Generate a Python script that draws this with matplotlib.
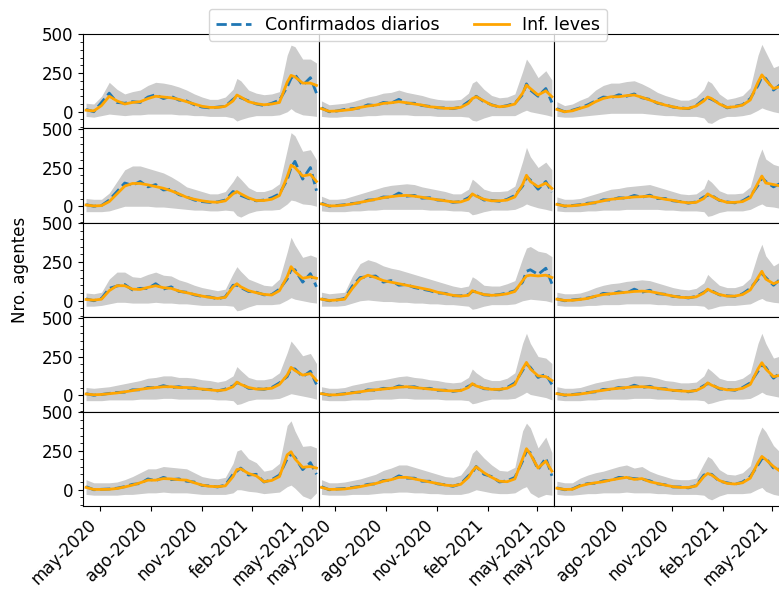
import matplotlib
matplotlib.use("Agg")
import matplotlib.pyplot as plt
import matplotlib.dates as mdates
from matplotlib.ticker import MultipleLocator, FuncFormatter
import numpy as np
import pandas as pd

# Sample dates (biweekly, denser around the January and April waves)
fechas = ["2020-04-06", "2020-04-20", "2020-05-04", "2020-05-18", "2020-06-01",
          "2020-06-15", "2020-06-29", "2020-07-13", "2020-07-27", "2020-08-10",
          "2020-08-24", "2020-09-07", "2020-09-21", "2020-10-05", "2020-10-19",
          "2020-11-02", "2020-11-16", "2020-11-30", "2020-12-14", "2020-12-28",
          "2021-01-04", "2021-01-11", "2021-01-25", "2021-02-08", "2021-02-22",
          "2021-03-08", "2021-03-22", "2021-04-05", "2021-04-12", "2021-04-19",
          "2021-05-03", "2021-05-17", "2021-05-28"]

# Panel 1
leves_1 = [10, 5, 40, 100, 70, 50, 60, 65, 85, 100, 95, 90, 80, 65, 50, 35, 28, 28, 35, 70, 108, 95, 65, 52, 45, 50, 60, 190, 235, 225, 185, 185, 170]
conf_1 = [15, 0, 60, 120, 60, 55, 65, 60, 95, 110, 85, 100, 75, 70, 45, 30, 25, 30, 35, 80, 100, 90, 70, 50, 40, 55, 75, 160, 215, 240, 170, 220, 120]
sup_1 = [55, 50, 100, 190, 145, 115, 130, 140, 170, 190, 185, 175, 160, 140, 115, 95, 80, 80, 95, 145, 215, 200, 140, 120, 110, 115, 130, 365, 430, 420, 340, 340, 315]
inf_1 = [-30, -35, -25, -15, -20, -25, -20, -20, -15, -15, -15, -15, -20, -20, -25, -25, -30, -30, -30, -40, -60, -50, -35, -25, -25, -25, -20, 0, 20, 0, -20, -25, -30]

# Panel 2
leves_2 = [20, 3, 5, 10, 15, 28, 37, 43, 54, 58, 65, 58, 50, 43, 32, 28, 22, 22, 28, 54, 85, 97, 70, 43, 32, 37, 50, 120, 172, 150, 108, 135, 97]
conf_2 = [25, 0, 5, 15, 20, 25, 45, 40, 60, 55, 80, 55, 55, 40, 35, 25, 25, 20, 30, 65, 80, 100, 65, 45, 30, 40, 55, 110, 180, 140, 100, 150, 60]
sup_2 = [70, 45, 50, 55, 65, 80, 95, 105, 120, 125, 140, 125, 115, 105, 90, 80, 75, 75, 80, 120, 185, 200, 145, 105, 90, 95, 115, 260, 340, 305, 220, 265, 205]
inf_2 = [-30, -35, -35, -30, -30, -30, -25, -25, -20, -20, -20, -20, -25, -25, -25, -30, -30, -30, -30, -35, -55, -60, -40, -25, -25, -25, -25, 0, 10, 0, -10, -20, -30]

# Panel 3
leves_3 = [15, 0, 6, 22, 37, 65, 86, 97, 97, 104, 108, 93, 76, 58, 43, 32, 22, 22, 37, 70, 95, 85, 50, 28, 32, 43, 76, 190, 238, 205, 150, 165, 150]
conf_3 = [20, 0, 10, 25, 45, 70, 95, 90, 110, 100, 115, 90, 80, 55, 45, 30, 25, 20, 40, 80, 90, 80, 55, 25, 35, 45, 85, 170, 225, 215, 140, 180, 130]
sup_3 = [65, 40, 50, 75, 95, 140, 170, 185, 185, 195, 200, 180, 155, 125, 105, 90, 75, 75, 95, 145, 200, 185, 115, 80, 90, 105, 155, 365, 435, 385, 285, 305, 285]
inf_3 = [-30, -35, -35, -30, -25, -20, -15, -10, -10, -10, -10, -10, -15, -20, -25, -25, -30, -30, -30, -40, -70, -75, -45, -30, -30, -25, -15, 10, 25, 15, 0, -10, -20]

# Panel 4
leves_4 = [8, 2, 4, 30, 80, 130, 147, 147, 138, 127, 116, 100, 80, 58, 45, 35, 28, 26, 35, 80, 95, 80, 54, 37, 37, 45, 69, 190, 265, 250, 195, 205, 160]
conf_4 = [10, 0, 5, 40, 95, 150, 135, 160, 125, 140, 105, 110, 75, 60, 40, 30, 25, 28, 40, 95, 85, 70, 50, 35, 40, 55, 80, 170, 250, 290, 175, 250, 100]
sup_4 = [50, 45, 45, 85, 160, 235, 260, 260, 245, 230, 215, 190, 160, 125, 110, 95, 80, 80, 95, 160, 200, 175, 120, 95, 95, 110, 145, 365, 475, 455, 355, 365, 300]
inf_4 = [-35, -35, -35, -30, -15, 0, 0, 0, 0, -5, -5, -10, -15, -20, -25, -25, -30, -30, -25, -30, -60, -70, -45, -30, -25, -25, -20, 15, 40, 35, 15, 10, 0]

# Panel 5
leves_5 = [15, 2, 3, 8, 15, 25, 35, 45, 55, 62, 68, 70, 65, 58, 50, 42, 35, 28, 28, 45, 80, 65, 45, 35, 35, 40, 60, 140, 200, 160, 125, 150, 115]
conf_5 = [20, 0, 5, 10, 18, 22, 40, 42, 60, 58, 85, 65, 70, 52, 55, 40, 38, 25, 30, 55, 75, 70, 40, 38, 32, 45, 70, 130, 190, 170, 110, 160, 90]
sup_5 = [65, 45, 45, 50, 65, 80, 95, 110, 125, 135, 140, 145, 140, 125, 115, 105, 95, 80, 80, 110, 175, 155, 110, 95, 95, 100, 130, 290, 380, 320, 250, 285, 235]
inf_5 = [-30, -35, -35, -35, -30, -30, -25, -25, -20, -20, -20, -20, -20, -20, -25, -25, -25, -30, -30, -35, -55, -50, -35, -25, -25, -25, -20, 0, 15, 5, -10, -20, -30]

# Panel 6
leves_6 = [12, 2, 3, 8, 15, 25, 35, 45, 50, 55, 60, 62, 65, 55, 45, 38, 28, 22, 25, 50, 80, 65, 40, 25, 25, 30, 55, 150, 195, 150, 140, 130, 120]
conf_6 = [15, 0, 5, 10, 20, 22, 42, 40, 55, 52, 70, 58, 72, 50, 50, 35, 30, 20, 28, 60, 70, 70, 38, 28, 22, 35, 65, 135, 185, 160, 125, 150, 100]
sup_6 = [60, 45, 45, 50, 65, 80, 95, 110, 115, 125, 130, 135, 140, 125, 110, 95, 80, 75, 80, 115, 175, 155, 100, 80, 80, 85, 125, 305, 370, 305, 270, 255, 240]
inf_6 = [-30, -35, -35, -35, -30, -30, -25, -25, -25, -20, -20, -20, -20, -20, -25, -25, -30, -30, -30, -35, -65, -60, -40, -30, -30, -30, -20, 5, 15, 0, -5, -15, -25]

# Panel 7
leves_7 = [8, 4, 10, 65, 97, 97, 75, 73, 86, 97, 84, 80, 63, 52, 41, 30, 22, 15, 22, 90, 110, 90, 65, 52, 41, 37, 65, 155, 220, 188, 145, 155, 145]
conf_7 = [12, 0, 15, 80, 95, 105, 70, 80, 80, 110, 75, 90, 60, 55, 38, 28, 25, 12, 25, 100, 100, 85, 60, 55, 38, 40, 75, 140, 200, 200, 120, 175, 90]
sup_7 = [50, 45, 55, 140, 185, 185, 155, 150, 170, 185, 165, 160, 135, 120, 100, 85, 75, 65, 75, 175, 220, 190, 140, 120, 100, 95, 140, 315, 410, 360, 280, 295, 280]
inf_7 = [-35, -35, -30, -20, -10, -10, -15, -15, -15, -10, -15, -15, -20, -20, -25, -30, -30, -30, -30, -35, -65, -60, -40, -25, -25, -25, -20, 5, 20, 10, 0, -10, -15]

# Panel 8
leves_8 = [10, 2, 5, 10, 80, 140, 165, 150, 130, 120, 110, 100, 90, 80, 70, 55, 45, 35, 30, 35, 65, 55, 40, 35, 38, 45, 60, 130, 160, 165, 160, 165, 150]
conf_8 = [12, 0, 5, 15, 95, 150, 155, 160, 120, 130, 100, 105, 85, 75, 65, 50, 48, 32, 32, 40, 60, 58, 38, 35, 40, 50, 65, 120, 190, 200, 170, 210, 110]
sup_8 = [55, 45, 50, 55, 160, 240, 265, 250, 225, 210, 200, 185, 170, 155, 140, 125, 110, 95, 85, 95, 155, 140, 100, 95, 95, 110, 130, 275, 340, 350, 320, 310, 285]
inf_8 = [-35, -35, -35, -30, -15, 0, 5, 0, -5, -5, -10, -10, -15, -15, -20, -20, -25, -25, -30, -35, -55, -50, -35, -25, -25, -25, -20, 0, 5, 10, 5, 0, -10]

# Panel 9
leves_9 = [10, 2, 3, 8, 15, 30, 40, 45, 50, 55, 60, 62, 60, 50, 40, 30, 22, 20, 25, 50, 75, 60, 40, 30, 30, 40, 70, 150, 190, 140, 110, 130, 150]
conf_9 = [12, 0, 5, 10, 18, 28, 48, 42, 58, 50, 75, 55, 68, 45, 42, 28, 25, 18, 28, 55, 70, 65, 38, 32, 28, 45, 80, 140, 175, 150, 100, 145, 130]
sup_9 = [55, 45, 45, 50, 65, 85, 100, 110, 115, 125, 130, 135, 130, 115, 100, 85, 75, 70, 80, 115, 170, 145, 100, 85, 85, 100, 145, 305, 365, 290, 225, 255, 285]
inf_9 = [-30, -35, -35, -35, -30, -30, -25, -25, -25, -20, -20, -20, -20, -25, -25, -30, -30, -30, -30, -35, -55, -50, -35, -30, -30, -25, -20, 5, 15, 0, -10, -15, -10]

# Panel 10
leves_10 = [8, 3, 5, 10, 15, 22, 30, 38, 45, 50, 55, 55, 50, 50, 45, 40, 35, 30, 35, 55, 85, 70, 50, 40, 40, 45, 70, 130, 180, 160, 130, 140, 95]
conf_10 = [10, 0, 5, 12, 18, 20, 35, 35, 50, 48, 62, 50, 55, 45, 48, 38, 38, 28, 40, 60, 80, 75, 45, 42, 38, 50, 80, 120, 170, 170, 120, 155, 70]
sup_10 = [50, 45, 50, 55, 65, 75, 85, 95, 110, 115, 125, 125, 115, 115, 110, 100, 95, 85, 95, 125, 185, 160, 115, 100, 100, 110, 145, 275, 350, 320, 255, 270, 205]
inf_10 = [-35, -35, -35, -30, -30, -30, -30, -25, -25, -25, -20, -20, -25, -25, -25, -25, -25, -30, -30, -35, -60, -55, -35, -25, -25, -25, -20, 0, 10, 5, -5, -15, -25]

# Panel 11
leves_11 = [10, 2, 3, 8, 15, 22, 30, 35, 40, 45, 52, 55, 50, 45, 40, 35, 30, 28, 30, 50, 75, 60, 45, 38, 38, 45, 70, 170, 212, 170, 125, 120, 95]
conf_11 = [12, 0, 5, 10, 18, 20, 35, 32, 45, 42, 60, 52, 55, 42, 45, 32, 33, 25, 32, 58, 70, 65, 42, 40, 35, 50, 80, 160, 200, 180, 115, 135, 70]
sup_11 = [55, 45, 45, 50, 65, 75, 85, 95, 100, 110, 120, 125, 115, 110, 100, 95, 85, 80, 85, 115, 170, 145, 110, 95, 95, 110, 145, 335, 400, 335, 250, 240, 205]
inf_11 = [-30, -35, -35, -35, -30, -30, -30, -25, -25, -25, -20, -20, -25, -25, -25, -25, -30, -30, -30, -35, -55, -50, -35, -25, -25, -25, -20, 5, 20, 5, -5, -15, -30]

# Panel 12
leves_12 = [10, 2, 3, 8, 15, 25, 32, 40, 45, 50, 55, 55, 52, 45, 38, 32, 28, 25, 30, 55, 80, 65, 45, 35, 35, 45, 70, 170, 210, 170, 120, 130, 130]
conf_12 = [12, 0, 5, 10, 18, 22, 38, 38, 50, 45, 65, 50, 58, 42, 42, 30, 30, 22, 32, 62, 75, 70, 40, 38, 32, 50, 80, 155, 195, 180, 110, 150, 110]
sup_12 = [55, 45, 45, 50, 65, 80, 90, 100, 110, 115, 125, 125, 120, 110, 95, 90, 80, 80, 85, 125, 175, 155, 110, 95, 95, 110, 145, 335, 400, 335, 240, 255, 255]
inf_12 = [-30, -35, -35, -35, -30, -30, -25, -25, -25, -25, -20, -20, -20, -25, -25, -25, -30, -30, -30, -35, -55, -50, -35, -25, -25, -25, -20, 5, 20, 5, -5, -15, -20]

# Panel 13
leves_13 = [15, 2, 2, 3, 8, 18, 30, 45, 62, 62, 72, 70, 65, 62, 45, 30, 22, 20, 25, 85, 130, 135, 105, 90, 52, 60, 85, 225, 245, 200, 145, 150, 140]
conf_13 = [20, 0, 3, 5, 10, 20, 35, 40, 70, 58, 80, 65, 70, 55, 50, 28, 25, 18, 30, 100, 120, 140, 95, 100, 50, 65, 95, 200, 230, 210, 130, 175, 100]
sup_13 = [65, 45, 45, 45, 50, 65, 85, 110, 135, 135, 150, 145, 140, 135, 110, 85, 75, 70, 80, 170, 250, 260, 200, 175, 120, 130, 170, 415, 445, 380, 280, 285, 270]
inf_13 = [-30, -35, -35, -35, -35, -30, -30, -25, -20, -20, -15, -20, -20, -20, -25, -30, -30, -30, -30, -20, 0, 0, -10, -15, -25, -20, -15, 20, 30, 10, -40, -60, -20]

# Panel 14
leves_14 = [15, 2, 3, 5, 12, 20, 30, 40, 55, 65, 80, 80, 70, 60, 50, 40, 30, 25, 35, 80, 120, 148, 110, 80, 55, 52, 70, 200, 265, 230, 140, 185, 120]
conf_14 = [20, 0, 5, 8, 15, 22, 35, 38, 60, 62, 90, 75, 75, 55, 55, 38, 32, 22, 38, 90, 110, 150, 100, 85, 50, 58, 80, 185, 250, 240, 130, 205, 90]
sup_14 = [65, 45, 45, 50, 60, 70, 85, 100, 125, 140, 160, 160, 145, 130, 115, 100, 85, 80, 95, 160, 235, 260, 205, 160, 125, 120, 145, 380, 430, 400, 270, 340, 240]
inf_14 = [-30, -35, -35, -35, -30, -30, -30, -25, -20, -20, -15, -15, -20, -20, -25, -25, -30, -30, -30, -20, -10, 0, -10, -20, -25, -25, -20, 10, 20, -20, -50, -30, -35]

# Panel 15
leves_15 = [10, 2, 3, 24, 37, 45, 52, 63, 72, 80, 67, 72, 52, 41, 30, 20, 15, 15, 24, 85, 105, 95, 60, 41, 37, 45, 75, 175, 215, 195, 150, 115, 130]
conf_15 = [12, 0, 5, 28, 40, 42, 58, 60, 80, 78, 72, 68, 58, 38, 32, 18, 18, 12, 28, 95, 100, 100, 55, 45, 35, 50, 85, 160, 200, 205, 140, 130, 110]
sup_15 = [55, 45, 45, 75, 95, 110, 120, 135, 150, 160, 140, 150, 120, 100, 85, 70, 65, 65, 75, 170, 215, 200, 130, 100, 95, 110, 155, 345, 405, 375, 285, 235, 255]
inf_15 = [-30, -35, -35, -30, -25, -25, -20, -20, -20, -15, -20, -20, -20, -25, -25, -30, -30, -30, -30, -35, -55, -65, -40, -25, -25, -25, -20, 5, 15, -10, -30, -40, -30]

leves = [leves_1, leves_2, leves_3, leves_4, leves_5, leves_6, leves_7, leves_8,
         leves_9, leves_10, leves_11, leves_12, leves_13, leves_14, leves_15]
confirmados = [conf_1, conf_2, conf_3, conf_4, conf_5, conf_6, conf_7, conf_8,
               conf_9, conf_10, conf_11, conf_12, conf_13, conf_14, conf_15]
banda_sup = [sup_1, sup_2, sup_3, sup_4, sup_5, sup_6, sup_7, sup_8,
             sup_9, sup_10, sup_11, sup_12, sup_13, sup_14, sup_15]
banda_inf = [inf_1, inf_2, inf_3, inf_4, inf_5, inf_6, inf_7, inf_8,
             inf_9, inf_10, inf_11, inf_12, inf_13, inf_14, inf_15]

meses_es = {1: "ene", 2: "feb", 3: "mar", 4: "abr", 5: "may", 6: "jun",
            7: "jul", 8: "ago", 9: "sep", 10: "oct", 11: "nov", 12: "dic"}

x = pd.to_datetime(fechas)

fig = plt.figure(figsize=(7.79, 5.93), dpi=100)
axes = fig.subplots(5, 3, sharex=True, sharey=True,
                    gridspec_kw=dict(left=0.1069, right=1.0135, top=0.9427,
                                     bottom=0.1459, wspace=0, hspace=0))

def fmt_fecha(v, pos=None):
    d = mdates.num2date(v)
    return f"{meses_es[d.month]}-{d.year}"

for i, ax in enumerate(axes.flat):
    ax.fill_between(x, banda_inf[i], banda_sup[i], color="#cccccc", lw=0)
    ax.plot(x, confirmados[i], ls="--", color="#1f77b4", lw=2,
            label="Confirmados diarios")
    ax.plot(x, leves[i], color="orange", lw=2, label="Inf. leves")

    r, c = divmod(i, 3)
    ax.tick_params(labelsize=12)
    ax.tick_params(axis="y", which="both", left=(c == 0))
    ax.tick_params(axis="x", which="both", bottom=(r == 4))

ax0 = axes[0, 0]
ax0.set_ylim(-108, 502)
ax0.set_yticks([0, 250, 500])
ax0.yaxis.set_minor_locator(MultipleLocator(50))
ax0.set_xlim(pd.Timestamp("2020-04-01"), pd.Timestamp("2021-06-01"))
ax0.xaxis.set_major_locator(mdates.MonthLocator(bymonth=[2, 5, 8, 11]))
ax0.xaxis.set_major_formatter(FuncFormatter(fmt_fecha))
ax0.xaxis.set_minor_locator(plt.NullLocator())

for ax in axes[4, :]:
    for lbl in ax.get_xticklabels():
        lbl.set_rotation(45)
        lbl.set_ha("right")

fig.text(0.026, 0.545, "Nro. agentes", rotation=90, va="center",
         ha="center", fontsize=12)

handles, labels = ax0.get_legend_handles_labels()
fig.legend(handles, labels, loc="upper center", ncol=2, fontsize=12.5,
           bbox_to_anchor=(0.524, 1.0))

fig.savefig("out.png", dpi=100)
